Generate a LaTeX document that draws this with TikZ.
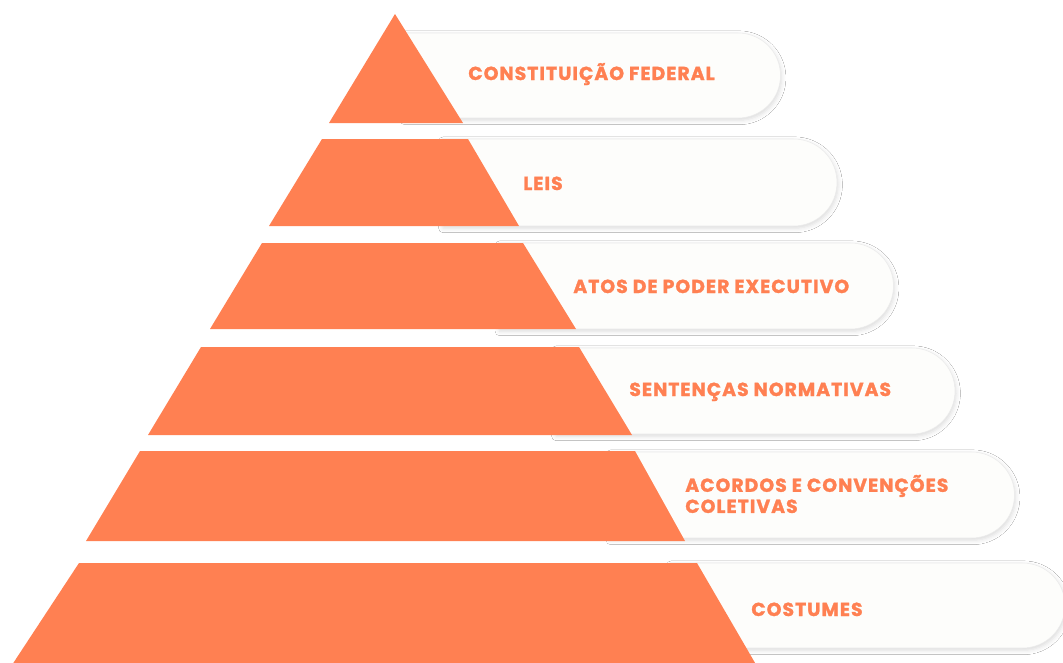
\documentclass[tikz,border=0pt]{standalone}
\usepackage{fontspec}
\setmainfont{Poppins}
\newfontfamily\tierfont{Poppins}[LetterSpace=5.5, BoldFeatures={FakeBold=1.4}]
\usetikzlibrary{shapes.misc,shadows.blur}
\pgfdeclarelayer{pilllayer}
\pgfdeclarelayer{pyramidlayer}
\pgfsetlayers{pilllayer,pyramidlayer,main}
\definecolor{coral}{HTML}{FF8052}
\definecolor{pillwhite}{HTML}{FDFDFB}
\tikzstyle{tier}=[fill=coral, draw=none]
\tikzstyle{pill}=[shape=rounded rectangle, rounded rectangle west arc=none, fill=pillwhite, draw=black!8, line width=0.3pt, inner sep=0pt, minimum height=1.72cm, blur shadow={shadow xshift=0.6pt, shadow yshift=-1.3pt, shadow blur radius=2.5pt, shadow opacity=14}]
\tikzstyle{tier text}=[text=coral, font=\tierfont\bfseries\fontsize{10.7}{12}\selectfont, inner sep=0pt, align=left]

\begin{document}
\begin{tikzpicture}[x=0.02cm, y=-0.02cm]
	\begin{pgfonlayer}{pilllayer}
		\clip (0, 0) rectangle (1063, 663);
		\fill [white] (0, 0) rectangle (1063, 663);
		\node [style=pill, minimum width=7.54cm, minimum height=1.7cm] (0) at (592, 75.5) {};
		\node [style=pill, minimum width=7.9cm, minimum height=1.74cm] (1) at (639.5, 182.5) {};
		\node [style=pill, minimum width=7.9cm] (2) at (696, 286) {};
		\node [style=pill, minimum width=8.0cm] (3) at (755, 391) {};
		\node [style=pill, minimum width=8.1cm] (4) at (812, 495) {};
		\node [style=pill, minimum width=7.9cm, minimum height=1.7cm] (5) at (867.5, 605.5) {};
	\end{pgfonlayer}
	\begin{pgfonlayer}{pyramidlayer}
		\clip (0, 0) rectangle (1063, 663);
		\fill [style=tier] (395, 14) -- (463, 123) -- (329, 123) -- cycle;
		\fill [style=tier] (322, 139) -- (468, 139) -- (519, 226) -- (269, 226) -- cycle;
		\fill [style=tier] (262, 243) -- (523, 243) -- (576, 329) -- (210, 329) -- cycle;
		\fill [style=tier] (201, 347) -- (579, 347) -- (632, 435) -- (148, 435) -- cycle;
		\fill [style=tier] (140, 451) -- (635, 451) -- (685, 541) -- (86, 541) -- cycle;
		\fill [style=tier] (79, 563) -- (697, 563) -- (758, 668) -- (10, 668) -- cycle;
	\end{pgfonlayer}
	\useasboundingbox (0, 0) rectangle (1063, 663);
	\node [style=tier text, anchor=base west] (6) at (468, 80) {CONSTITUIÇÃO FEDERAL};
	\node [style=tier text, anchor=base west] (7) at (523, 190) {LEIS};
	\node [style=tier text, anchor=base west] (8) at (573, 293) {ATOS DE PODER EXECUTIVO};
	\node [style=tier text, anchor=base west] (9) at (629, 396) {SENTENÇAS NORMATIVAS};
	\node [style=tier text, anchor=west] (10) at (685, 494) {ACORDOS E CONVENÇÕES\\COLETIVAS};
	\node [style=tier text, anchor=base west] (11) at (751, 616) {COSTUMES};
\end{tikzpicture}
\end{document}
